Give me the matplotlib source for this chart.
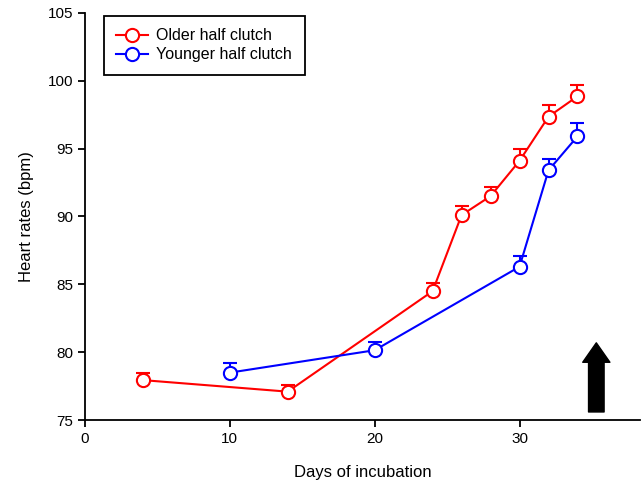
import matplotlib
matplotlib.use("Agg")
import matplotlib.pyplot as plt

plt.rcParams['font.family'] = ['Liberation Sans', 'DejaVu Sans']

# data
older_days = [4, 14, 24, 26, 28, 30, 32, 34]
older_hr = [77.95, 77.1, 84.5, 90.1, 91.5, 94.1, 97.35, 98.85]
older_err = [0.5, 0.5, 0.6, 0.7, 0.7, 0.9, 0.85, 0.8]

younger_days = [10, 20, 30, 32, 34]
younger_hr = [78.5, 80.15, 86.3, 93.4, 95.9]
younger_err = [0.7, 0.6, 0.8, 0.8, 1.0]

arrow_x = 35.3
arrow_from, arrow_to = 75.4, 80.9

fig = plt.figure(figsize=(6.43, 4.92), dpi=100)
ax = fig.add_axes([0.132, 0.146, 0.863, 0.828])

style = dict(marker='o', markersize=9.5, markerfacecolor='white', markeredgewidth=1.5,
             linewidth=1.5, capsize=5, elinewidth=1.5, capthick=1.5)
ax.errorbar(older_days, older_hr, yerr=[[0] * len(older_err), older_err],
            color='#ff0000', label='Older half clutch', **style)
ax.errorbar(younger_days, younger_hr, yerr=[[0] * len(younger_err), younger_err],
            color='#0000ff', label='Younger half clutch', **style)

ax.annotate('', xy=(arrow_x, arrow_to), xytext=(arrow_x, arrow_from),
            arrowprops=dict(arrowstyle='simple,head_width=1.4,head_length=1.0,tail_width=0.8',
                            color='black', mutation_scale=14))

ax.set_xlim(0, 38.3)
ax.set_ylim(75, 105)
ax.set_xticks([0, 10, 20, 30])
ax.set_yticks([75, 80, 85, 90, 95, 100, 105])
ax.spines['top'].set_visible(False)
ax.spines['right'].set_visible(False)
for s in ('left', 'bottom'):
    ax.spines[s].set_linewidth(1.3)
ax.tick_params(direction='out', length=5, width=1.3, labelsize=11)
ax.set_xlabel('Days of incubation', fontsize=12, labelpad=14)
ax.set_ylabel('Heart rates (bpm)', fontsize=12, labelpad=10)

handles, labels = ax.get_legend_handles_labels()
leg = ax.legend([h[0] for h in handles], labels, loc='upper left',
                bbox_to_anchor=(0.025, 1.005), fontsize=11.5, fancybox=False,
                edgecolor='black', framealpha=1, handlelength=2.0,
                borderpad=0.8, labelspacing=0.25, handletextpad=0.5,
                borderaxespad=0.3)
leg.get_frame().set_linewidth(1.3)

fig.savefig('out.png', dpi=100)
